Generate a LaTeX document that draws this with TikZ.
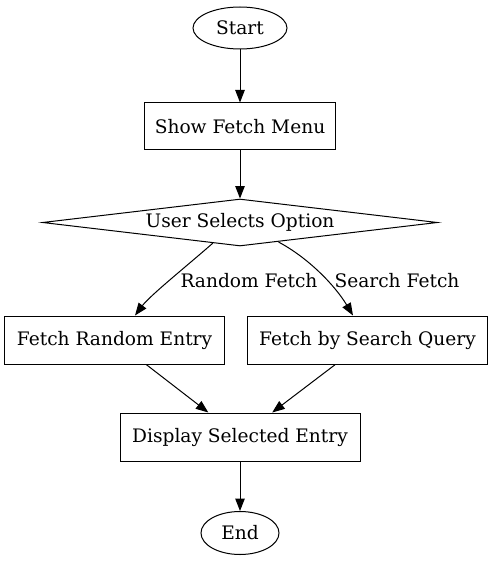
\documentclass[tikz,border=0pt]{standalone}
\usepackage{fontspec}
\setmainfont{DejaVu Serif}
\usetikzlibrary{shapes.geometric,arrows.meta,calc}
\begin{document}
\begin{tikzpicture}[x=1pt,y=-1pt,
  every node/.style={font=\fontsize{18.6}{22}\selectfont, inner sep=0pt},
  box/.style={draw, line width=1pt, rectangle},
  oval/.style={draw, line width=1pt, ellipse},
  decision/.style={draw, line width=1pt, diamond, aspect=8.4},
  flow/.style={draw, line width=1pt, -{Triangle[length=12.5pt,width=9.5pt]}},
  lbl/.style={font=\fontsize{18.6}{22}\selectfont}]
\useasboundingbox (0,0) rectangle (493,564);
\node[oval, minimum width=94pt, minimum height=42pt] (start) at (240,28) {Start};
\node[box, minimum width=191pt, minimum height=47pt] (menu) at (240,126.5) {Show Fetch Menu};
\node[decision, minimum width=395pt, minimum height=47pt] (dec) at (240,222.5) {User Selects Option};
\node[box, minimum width=220pt, minimum height=48pt] (rand) at (114.5,340) {Fetch Random Entry};
\node[box, minimum width=240pt, minimum height=48pt] (search) at (367.5,340) {Fetch by Search Query};
\node[box, minimum width=240pt, minimum height=48pt] (disp) at (240,437) {Display Selected Entry};
\node[oval, minimum width=78pt, minimum height=43pt] (end) at (240,533) {End};
\node[lbl] (lrand) at (249,281) {Random Fetch};
\node[lbl] (lsearch) at (397,281) {Search Fetch};
\draw[flow] (start) -- (menu);
\draw[flow] (menu) -- (dec);
\draw[flow] ($(dec.center)+(-27,20.5)$) .. controls +(-25,22) and +(15,-20) .. ($(rand.north)+(20.5,0)$);
\draw[flow] ($(dec.center)+(38.5,19.5)$) .. controls +(30,16) and +(-18,-30) .. ($(search.north)+(-14.5,0)$);
\draw[flow] (rand) -- (disp);
\draw[flow] (search) -- (disp);
\draw[flow] (disp) -- (end);
\end{tikzpicture}
\end{document}
